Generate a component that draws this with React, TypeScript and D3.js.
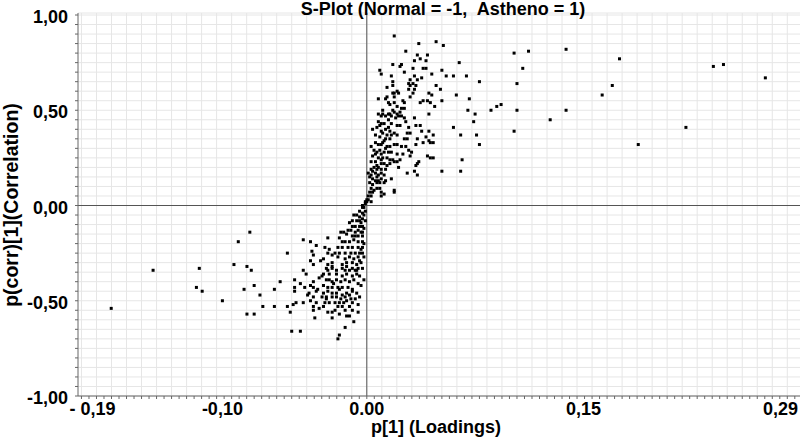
import * as d3 from "d3";

// S-plot: p[1] loadings vs p(corr)[1]
const title = "S-Plot (Normal = -1,  Astheno = 1)";
const xTitle = "p[1] (Loadings)";
const yTitle = "p(corr)[1](Correlation)";

const xTickValues = [-0.19, -0.1, 0, 0.15, 0.29];
const xTickLabels = ["- 0,19", "-0,10", "0.00", "0,15", "0,29"];
const yTickValues = [1, 0.5, 0, -0.5, -1];
const yTickLabels = ["1,00", "0,50", "0,00", "-0,50", "-1,00"];

// sparse variables up high on the right
const upperOutliers: [number, number][] = [
  [0.276, 0.67], [0.247, 0.74], [0.240, 0.73], [0.221, 0.41], [0.188, 0.32],
  [0.175, 0.77], [0.170, 0.63], [0.163, 0.58], [0.138, 0.82], [0.138, 0.50],
  [0.127, 0.45], [0.112, 0.81], [0.108, 0.72], [0.102, 0.80], [0.104, 0.64],
  [0.104, 0.50], [0.102, 0.39], [0.093, 0.53], [0.090, 0.52], [0.086, 0.50],
  [0.078, 0.65], [0.071, 0.56], [0.075, 0.48], [0.074, 0.44], [0.076, 0.37],
  [0.078, 0.32], [0.070, 0.50], [0.066, 0.24], [0.065, 0.18], [0.052, 0.18],
  [0.064, 0.75], [0.069, 0.68], [0.062, 0.58], [0.060, 0.68], [0.055, 0.68],
  [0.060, 0.41], [0.065, 0.37],
];

// the dense positive arm of the S
const upperCluster: [number, number][] = [
  [0.052, 0.71], [0.052, 0.55], [0.051, 0.61], [0.053, 0.84], [0.048, 0.86],
  [0.048, 0.63], [0.047, 0.52], [0.046, 0.37], [0.046, 0.33], [0.046, 0.25],
  [0.044, 0.25], [0.045, 0.69], [0.045, 0.58], [0.044, 0.54], [0.044, 0.33],
  [0.043, 0.59], [0.043, 0.48], [0.043, 0.39], [0.043, 0.34], [0.042, 0.26],
  [0.042, 0.79], [0.042, 0.55], [0.041, 0.72], [0.041, 0.76], [0.041, 0.36],
  [0.039, 0.72], [0.039, 0.55], [0.039, 0.33], [0.038, 0.67], [0.038, 0.39],
  [0.037, 0.54], [0.037, 0.42], [0.037, 0.77], [0.036, 0.85], [0.036, 0.23],
  [0.035, 0.66], [0.035, 0.22], [0.035, 0.16], [0.035, 0.79], [0.035, 0.35],
  [0.034, 0.42], [0.034, 0.32], [0.034, 0.21], [0.034, 0.63], [0.033, 0.61],
  [0.033, 0.46], [0.033, 0.18], [0.033, 0.68], [0.033, 0.76], [0.032, 0.72],
  [0.032, 0.59], [0.032, 0.64], [0.030, 0.66], [0.030, 0.57], [0.030, 0.38],
  [0.031, 0.28], [0.030, 0.63], [0.030, 0.26], [0.029, 0.64], [0.029, 0.61],
  [0.029, 0.41], [0.029, 0.29], [0.028, 0.38], [0.028, 0.35], [0.028, 0.17],
  [0.027, 0.31], [0.027, 0.81], [0.027, 0.44], [0.026, 0.51], [0.026, 0.54],
  [0.026, 0.35], [0.026, 0.70], [0.026, 0.46], [0.025, 0.55], [0.025, 0.27],
  [0.024, 0.74], [0.024, 0.47], [0.024, 0.31], [0.024, 0.51], [0.023, 0.49],
  [0.023, 0.42], [0.023, 0.24], [0.023, 0.73], [0.022, 0.59], [0.022, 0.47],
  [0.022, 0.20], [0.021, 0.48], [0.021, 0.42], [0.021, 0.27], [0.021, 0.60],
  [0.021, 0.52], [0.021, 0.37], [0.021, 0.32], [0.021, 0.23], [0.020, 0.46],
  [0.019, 0.89], [0.019, 0.49], [0.019, 0.59], [0.019, 0.23], [0.019, 0.07],
  [0.019, 0.54], [0.019, 0.57], [0.019, 0.38], [0.019, 0.32], [0.019, 0.08],
  [0.018, 0.74], [0.018, 0.65], [0.018, 0.63], [0.018, 0.59], [0.018, 0.50],
  [0.018, 0.24], [0.017, 0.68], [0.017, 0.43], [0.017, 0.28], [0.017, 0.14],
  [0.017, 0.47], [0.017, 0.37], [0.016, 0.35], [0.016, 0.31], [0.016, 0.22],
  [0.016, 0.53], [0.016, 0.48], [0.016, 0.24], [0.015, 0.45], [0.015, 0.28],
  [0.015, 0.54], [0.015, 0.48], [0.014, 0.62], [0.014, 0.37], [0.014, 0.31],
  [0.014, 0.25], [0.013, 0.56], [0.013, 0.47], [0.013, 0.35], [0.013, 0.19],
  [0.013, 0.13], [0.014, 0.57], [0.012, 0.43], [0.012, 0.28], [0.012, 0.22],
  [0.012, 0.16], [0.012, 0.12], [0.012, 0.06], [0.011, 0.50], [0.011, 0.48],
  [0.011, 0.38], [0.010, 0.69], [0.010, 0.47], [0.010, 0.32], [0.010, 0.24],
  [0.010, 0.17], [0.010, 0.14], [0.010, 0.07], [0.010, 0.43], [0.010, 0.39],
  [0.010, 0.27], [0.010, 0.22], [0.010, 0.19], [0.010, 0.05], [0.009, 0.71],
  [0.009, 0.36], [0.009, 0.12], [0.009, 0.09], [0.008, 0.13], [0.008, 0.56],
  [0.008, 0.48], [0.008, 0.32], [0.008, 0.16], [0.008, 0.44], [0.008, 0.25],
  [0.007, 0.41], [0.007, 0.28], [0.007, 0.21], [0.007, 0.19], [0.007, 0.15],
  [0.007, 0.12], [0.007, 0.09], [0.006, 0.33], [0.006, 0.37], [0.006, 0.23],
  [0.006, 0.17], [0.005, 0.29], [0.005, 0.08], [0.004, 0.40], [0.004, 0.26],
  [0.004, 0.14], [0.004, 0.11], [0.004, 0.07], [0.003, 0.31], [0.003, 0.19],
  [0.003, 0.05], [0.003, 0.23], [0.003, 0.16], [0.003, 0.09], [0.003, 0.02],
  [0.002, 0.15], [0.002, 0.12], [0.002, 0.07], [0.001, 0.17], [0.001, 0.05],
  [0.001, 0.03], [0.000, 0.02], [0.000, 0.03], [-0.001, 0.01], [-0.002, -0.01],
  [-0.001, 0.02], [0.005, 0.20], [0.006, 0.27], [0.004, 0.18], [0.008, 0.20],
  [0.006, 0.13], [0.009, 0.29], [0.011, 0.25], [0.011, 0.33], [0.013, 0.40],
  [0.012, 0.34], [0.009, 0.42], [0.015, 0.41], [0.016, 0.39], [0.013, 0.30],
  [0.014, 0.21],
];

// the dense negative arm of the S
const lowerCluster: [number, number][] = [
  [-0.003, 0.00], [-0.003, -0.01], [-0.005, -0.03], [-0.003, -0.04], [-0.009, -0.05],
  [-0.007, -0.05], [-0.005, -0.06], [-0.012, -0.09], [-0.010, -0.08], [-0.007, -0.08],
  [-0.005, -0.08], [-0.003, -0.07], [-0.010, -0.11], [-0.008, -0.11], [-0.005, -0.11],
  [-0.003, -0.11], [-0.013, -0.13], [-0.011, -0.13], [-0.008, -0.14], [-0.006, -0.13],
  [-0.003, -0.14], [-0.018, -0.14], [-0.016, -0.14], [-0.014, -0.15], [-0.010, -0.16],
  [-0.008, -0.16], [-0.006, -0.16], [-0.003, -0.16], [-0.027, -0.17], [-0.019, -0.17],
  [-0.017, -0.19], [-0.015, -0.19], [-0.012, -0.19], [-0.009, -0.18], [-0.006, -0.19],
  [-0.003, -0.19], [-0.029, -0.22], [-0.026, -0.23], [-0.020, -0.22], [-0.017, -0.22],
  [-0.013, -0.22], [-0.010, -0.22], [-0.006, -0.22], [-0.003, -0.22], [-0.038, -0.24],
  [-0.037, -0.26], [-0.027, -0.25], [-0.022, -0.25], [-0.019, -0.25], [-0.015, -0.25],
  [-0.011, -0.25], [-0.008, -0.25], [-0.005, -0.25], [-0.003, -0.25], [-0.024, -0.26],
  [-0.020, -0.27], [-0.030, -0.28], [-0.015, -0.28], [-0.012, -0.27], [-0.009, -0.28],
  [-0.006, -0.27], [-0.039, -0.29], [-0.037, -0.31], [-0.027, -0.31], [-0.024, -0.30],
  [-0.017, -0.31], [-0.014, -0.30], [-0.010, -0.30], [-0.007, -0.31], [-0.004, -0.30],
  [-0.027, -0.34], [-0.024, -0.33], [-0.021, -0.34], [-0.015, -0.34], [-0.012, -0.34],
  [-0.008, -0.34], [-0.006, -0.33], [-0.030, -0.36], [-0.028, -0.33], [-0.024, -0.32],
  [-0.017, -0.33], [-0.014, -0.32], [-0.010, -0.33], [-0.007, -0.34], [-0.031, -0.37],
  [-0.026, -0.36], [-0.021, -0.36], [-0.017, -0.37], [-0.014, -0.36], [-0.010, -0.37],
  [-0.007, -0.36], [-0.037, -0.40], [-0.028, -0.39], [-0.024, -0.40], [-0.021, -0.39],
  [-0.018, -0.40], [-0.015, -0.39], [-0.012, -0.40], [-0.009, -0.39], [-0.043, -0.43],
  [-0.039, -0.42], [-0.037, -0.43], [-0.030, -0.42], [-0.027, -0.43], [-0.024, -0.43],
  [-0.020, -0.43], [-0.017, -0.43], [-0.013, -0.43], [-0.010, -0.44], [-0.040, -0.46],
  [-0.035, -0.45], [-0.030, -0.46], [-0.027, -0.45], [-0.024, -0.46], [-0.021, -0.46],
  [-0.017, -0.47], [-0.014, -0.46], [-0.010, -0.45], [-0.007, -0.46], [-0.037, -0.48],
  [-0.031, -0.48], [-0.028, -0.48], [-0.024, -0.48], [-0.021, -0.48], [-0.018, -0.49],
  [-0.015, -0.48], [-0.011, -0.49], [-0.005, -0.48], [-0.039, -0.50], [-0.035, -0.51],
  [-0.029, -0.51], [-0.026, -0.51], [-0.022, -0.51], [-0.019, -0.51], [-0.016, -0.51],
  [-0.014, -0.50], [-0.010, -0.51], [-0.037, -0.53], [-0.030, -0.53], [-0.020, -0.53],
  [-0.017, -0.53], [-0.012, -0.53], [-0.037, -0.55], [-0.033, -0.54], [-0.027, -0.56],
  [-0.024, -0.56], [-0.015, -0.55], [-0.010, -0.55], [-0.036, -0.59], [-0.024, -0.59],
  [-0.019, -0.57], [-0.014, -0.58], [-0.009, -0.61], [-0.015, -0.64], [-0.019, -0.68],
  [-0.020, -0.70], [-0.001, -0.03], [-0.002, -0.05], [-0.004, -0.09], [-0.002, -0.12],
  [-0.004, -0.14], [-0.001, -0.08], [-0.002, -0.20], [-0.004, -0.23], [-0.002, -0.27],
  [-0.005, -0.29], [-0.003, -0.33], [-0.005, -0.37], [-0.002, -0.39], [-0.004, -0.42],
  [-0.006, -0.41], [-0.008, -0.49], [-0.006, -0.52], [-0.012, -0.47], [-0.019, -0.44],
  [-0.023, -0.41], [-0.026, -0.39], [-0.033, -0.38], [-0.034, -0.44], [-0.028, -0.49],
  [-0.032, -0.29], [-0.042, -0.36], [-0.041, -0.47], [-0.012, -0.58], [-0.022, -0.55],
  [-0.006, -0.56],
];

// sparse variables out on the left
const lowerOutliers: [number, number][] = [
  [-0.044, -0.18], [-0.039, -0.19], [-0.035, -0.21], [-0.055, -0.25], [-0.044, -0.34],
  [-0.060, -0.40], [-0.050, -0.39], [-0.046, -0.41], [-0.064, -0.44], [-0.050, -0.43],
  [-0.050, -0.45], [-0.044, -0.51], [-0.064, -0.53], [-0.055, -0.53], [-0.051, -0.52],
  [-0.049, -0.51], [-0.053, -0.56], [-0.052, -0.66], [-0.046, -0.66], [-0.081, -0.14],
  [-0.089, -0.19], [-0.148, -0.34], [-0.116, -0.33], [-0.092, -0.31], [-0.083, -0.32],
  [-0.080, -0.34], [-0.118, -0.43], [-0.114, -0.45], [-0.085, -0.44], [-0.078, -0.42],
  [-0.100, -0.50], [-0.074, -0.47], [-0.072, -0.53], [-0.177, -0.54], [-0.083, -0.57],
  [-0.078, -0.57],
];

const allPoints = [...upperOutliers, ...upperCluster, ...lowerCluster, ...lowerOutliers];

const W = 800;
const H = 438;
const plotLeft = 78;
const plotRight = 800;
const plotTop = 13;
const plotBottom = 396;
const font = "'Liberation Sans', Arial, Helvetica, sans-serif";
const gridStepX = 0.0104;

export default function App() {
  const x = d3.scaleLinear().domain([-0.2, 0.3]).range([plotLeft, plotRight]);
  const y = d3.scaleLinear().domain([-1, 1]).range([plotBottom, 15]);

  const gridX = [
    ...d3.range(0, 0.3, gridStepX),
    ...d3.range(-gridStepX, -0.2, -gridStepX),
  ];
  const gridY = d3.range(-1, 1.001, 0.05);
  const minorX = [
    ...d3.range(0, 0.3, gridStepX / 2),
    ...d3.range(-gridStepX / 2, -0.2, -gridStepX / 2),
  ];

  return (
    <svg
      width={W}
      height={H}
      style={{ position: "absolute", left: 0, top: 0, background: "#fff" }}
      fontFamily={font}
    >
      {/* grid */}
      <g stroke="#e6e6e6" strokeWidth={1}>
        {gridX.map((v, i) => (
          <line key={"gx" + i} x1={x(v)} x2={x(v)} y1={plotTop} y2={plotBottom} />
        ))}
        {gridY.map((v, i) => (
          <line key={"gy" + i} x1={plotLeft} x2={plotRight} y1={y(v)} y2={y(v)} />
        ))}
        <line x1={plotLeft} x2={plotRight} y1={plotTop} y2={plotTop} />
      </g>

      {/* zero lines */}
      <g stroke="#555" strokeWidth={1}>
        <line x1={x(0)} x2={x(0)} y1={plotTop} y2={plotBottom} />
        <line x1={plotLeft} x2={plotRight} y1={y(0)} y2={y(0)} />
      </g>

      {/* axes */}
      <g stroke="#666" strokeWidth={1}>
        <line x1={plotLeft} x2={plotLeft} y1={plotTop} y2={plotBottom} />
        <line x1={plotLeft} x2={plotRight} y1={plotBottom} y2={plotBottom} />
        {gridY.map((v, i) => (
          <line key={"ty" + i} x1={plotLeft - 3} x2={plotLeft} y1={y(v)} y2={y(v)} />
        ))}
        {minorX.map((v, i) => (
          <line key={"tx" + i} x1={x(v)} x2={x(v)} y1={plotBottom} y2={plotBottom + 3} />
        ))}
      </g>

      {/* points */}
      <g fill="#000">
        {allPoints.map(([px, py], i) => (
          <rect key={i} x={x(px) - 1.5} y={y(py) - 1.5} width={3} height={3} />
        ))}
      </g>

      {/* tick labels */}
      <g fontSize={18} fontWeight="bold" fill="#000">
        {yTickValues.map((v, i) => (
          <text key={"yl" + i} x={68} y={y(v) + 8} textAnchor="end">
            {yTickLabels[i]}
          </text>
        ))}
        {xTickValues.map((v, i) => {
          // keep the last label inside the picture, as the original does
          const last = i === xTickValues.length - 1;
          return (
            <text
              key={"xl" + i}
              x={last ? W - 2 : x(v)}
              y={415}
              textAnchor={last ? "end" : "middle"}
              style={{ whiteSpace: "pre" }}
            >
              {xTickLabels[i]}
            </text>
          );
        })}
      </g>

      {/* titles */}
      <text
        x={443}
        y={15}
        textAnchor="middle"
        fontSize={18}
        fontWeight="bold"
        style={{ whiteSpace: "pre" }}
      >
        {title}
      </text>
      <text x={436} y={433} textAnchor="middle" fontSize={18} fontWeight="bold">
        {xTitle}
      </text>
      <text
        transform={`translate(18, 205) rotate(-90)`}
        textAnchor="middle"
        fontSize={19.5}
        fontWeight="bold"
      >
        {yTitle}
      </text>
    </svg>
  );
}
